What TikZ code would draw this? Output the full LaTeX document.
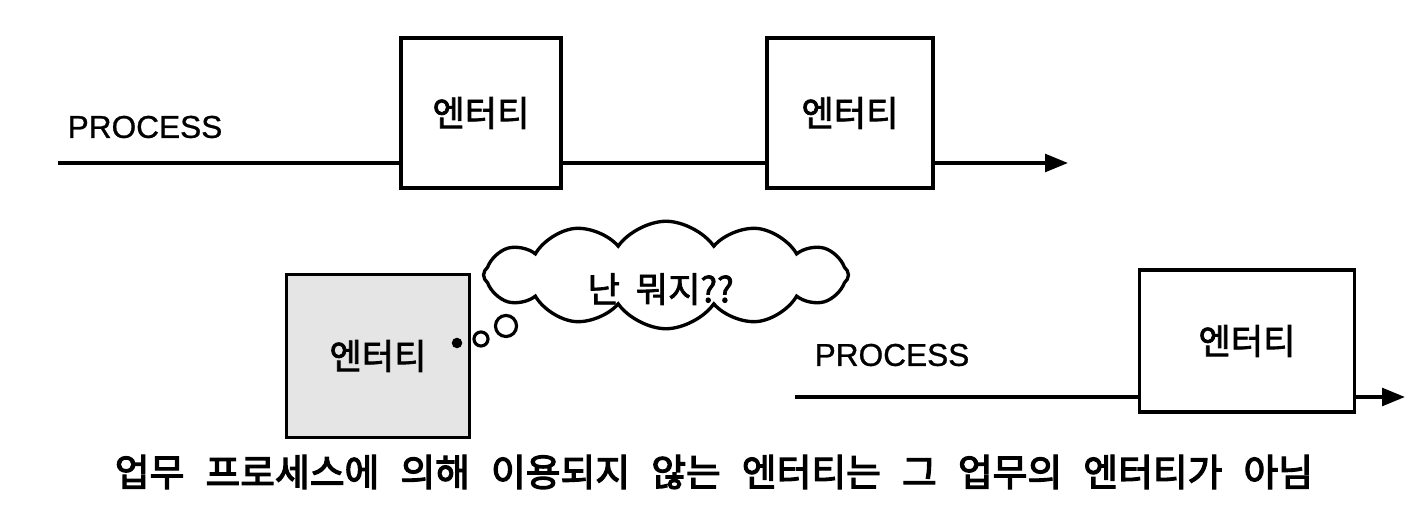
\documentclass[tikz,border=0pt]{standalone}
\usepackage{fontspec}
\usepackage{tikz}
\usetikzlibrary{shapes.symbols, arrows.meta, positioning}
\newfontfamily\krfont{Noto Sans CJK KR}[FakeBold=2.1]
\newfontfamily\capfont{Noto Sans CJK KR}[FakeBold=3.2, WordSpace=2.5]
\newfontfamily\latfont{Liberation Sans}[FakeBold=0.8]

\begin{document}
\begin{tikzpicture}[
    x=0.02cm, y=-0.02cm,
    entity/.style={rectangle, draw=black, line width=2.1pt, minimum height=3cm,
                   minimum width=3.2cm, font=\krfont\fontsize{20}{24}\selectfont},
    lone/.style={entity, fill=black!10, minimum width=3.66cm, minimum height=3.26cm},
    proclabel/.style={font=\latfont\fontsize{18}{21}\selectfont},
    flow/.style={line width=2pt},
    flowarr/.style={flow, -{Triangle[length=13pt, width=10pt]}},
    bubble/.style={circle, draw=black, line width=1.8pt, inner sep=0pt},
    think/.style={cloud, cloud puffs=12, cloud puff arc=110, aspect=3.5, draw=black,
                  line width=1.9pt, minimum width=7.3cm, minimum height=2.15cm,
                  font=\krfont\fontsize{20}{24}\selectfont}
]
\useasboundingbox (0,0) rectangle (1426,516);

% upper process
\node[entity] (ent1) at (481,113) {엔터티};
\node[entity, minimum width=3.32cm] (ent2) at (850,113) {엔터티};
\node[proclabel] (proc1) at (145,127) {PROCESS};
\coordinate (start1) at (58,163);
\coordinate (end1) at (1068,163);
\draw[flow] (start1) -- (start1 -| ent1.west);
\draw[flow] (ent1.east |- start1) -- (ent2.west |- start1);
\draw[flowarr] (ent2.east |- start1) -- (end1);

% lone entity with thought cloud
\node[lone] (lone) at (378,356) {엔터티};
\node[circle, fill=black, inner sep=0pt, minimum size=6pt] (dot) at (457,343) {};
\node[bubble, minimum size=8pt] (b1) at (481,339) {};
\node[bubble, minimum size=12pt] (b2) at (506,326) {};
\node[think, label={[font=\krfont\fontsize{20}{24}\selectfont, xshift=-3pt, yshift=-8pt]center:난\ \ 뭐지??}]
    (cloud) at (666,275) {\phantom{난\ \ 뭐지??}};

% lower process
\node[entity, minimum width=4.3cm, minimum height=2.84cm] (ent4) at (1247,341) {엔터티};
\node[proclabel] (proc2) at (892,355) {PROCESS};
\coordinate (start2) at (795,397);
\coordinate (end2) at (1405,397);
\draw[flow] (start2) -- (start2 -| ent4.west);
\draw[flowarr] (ent4.east |- start2) -- (end2);

% caption
\node[font=\capfont\fontsize{21.5}{25}\selectfont] (caption) at (714,472)
    {업무 프로세스에 의해 이용되지 않는 엔터티는 그 업무의 엔터티가 아님};
\end{tikzpicture}
\end{document}
